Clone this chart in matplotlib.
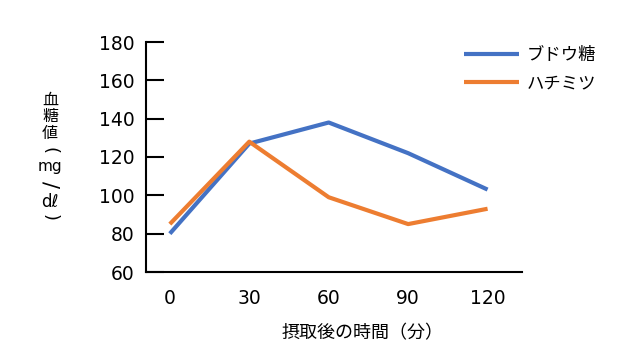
import matplotlib
matplotlib.use("Agg")
import matplotlib.pyplot as plt

plt.rcParams['font.family'] = ['Noto Sans CJK JP', 'DejaVu Sans']

minutes = [0, 30, 60, 90, 120]
glucose = [80, 127, 138, 122, 103]
honey = [85, 128, 99, 85, 93]
series_names = ["ブドウ糖", "ハチミツ"]
y_ticks = [60, 80, 100, 120, 140, 160, 180]
x_label = "摂取後の時間（分）"
y_label_main = "血糖値"
y_label_unit = ["(", "mg", "/", "dℓ", ")"]

fig = plt.figure(figsize=(6.4, 3.6), dpi=100)
ax = fig.add_axes([146/640, 1 - 272/360, (522-146)/640, (272-42)/360])

ax.plot(minutes, glucose, color="#4472C4", lw=3.0, solid_capstyle="butt", label=series_names[0])
ax.plot(minutes, honey, color="#ED7D31", lw=3.0, solid_capstyle="butt", label=series_names[1])

ax.set_xlim(-9, 133)
ax.set_ylim(60, 180)
ax.set_yticks(y_ticks)
ax.set_xticks(minutes)
ax.set_xticklabels([str(m) for m in minutes])

for s in ["top", "right"]:
    ax.spines[s].set_visible(False)
for s in ["left", "bottom"]:
    ax.spines[s].set_linewidth(1.5)
    ax.spines[s].set_color("black")

ax.tick_params(axis="y", direction="in", length=13, width=1.5, pad=8, labelsize=13.5)
ax.tick_params(axis="x", length=0, pad=12, labelsize=13.5)
for lab in ax.get_xticklabels() + ax.get_yticklabels():
    lab.set_fontfamily(["DejaVu Sans"])

fig.text(363/640, 1 - 333/360, x_label, ha="center", va="center", fontsize=13)

# vertical (tategaki) y-axis label: CJK upright in one stacked text
fig.text(50/640, 1 - 117/360, "\n".join(y_label_main), ha="center", va="center",
         fontsize=11.5, linespacing=0.95, family=["Noto Sans CJK JP"])
# unit part: brackets and slash turned, letters upright
centers = [150, 166, 185, 202, 217]
rots = [-90, 0, -90, 0, -90]
sizes = [13, 11, 15, 12, 13]
for ch, yc, r, fs in zip(y_label_unit, centers, rots, sizes):
    fig.text(50/640, 1 - yc/360, ch, ha="center", va="center", fontsize=fs,
             rotation=r, family=["DejaVu Sans"])

leg = ax.legend(loc="upper left", bbox_to_anchor=(455/640, 1 - 37/360),
                bbox_transform=fig.transFigure, frameon=False, fontsize=12.5,
                handlelength=3.2, handletextpad=0.45, labelspacing=0.6, borderpad=0)

fig.savefig("out.png", dpi=100, facecolor="white")
